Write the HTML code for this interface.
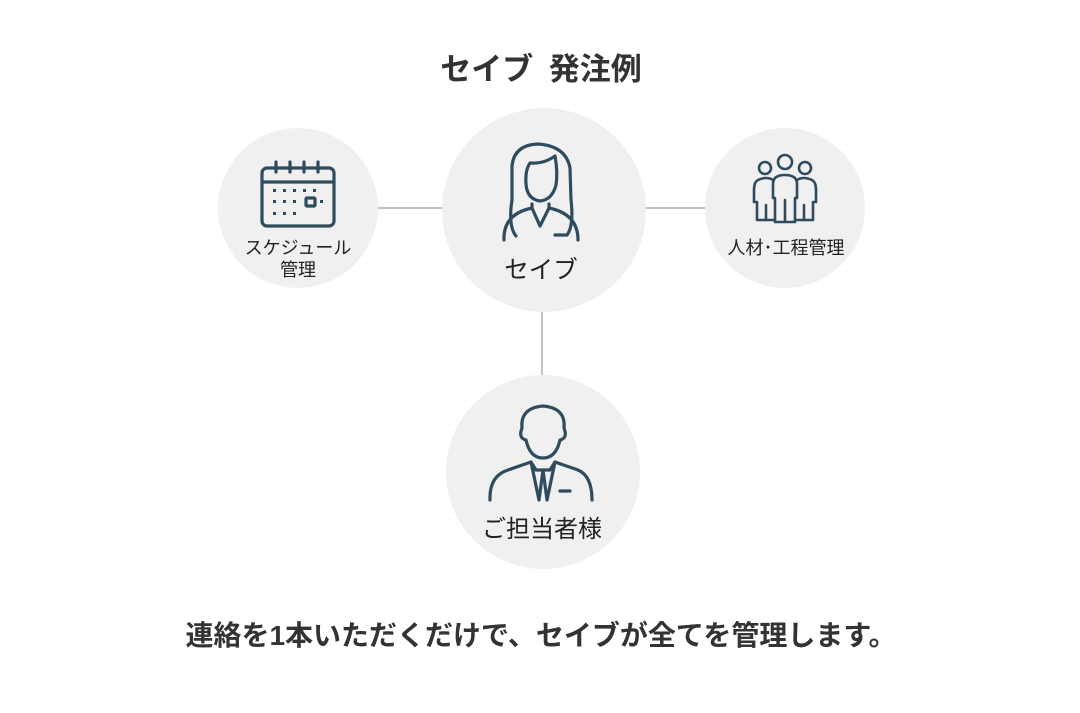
<!DOCTYPE html>
<html><head><meta charset="utf-8"><style>
html,body{margin:0;padding:0;background:#fff;}
body{width:1080px;height:708px;overflow:hidden;font-family:"Liberation Sans","Noto Sans CJK JP",sans-serif;}
</style></head><body>
<svg width="1080" height="708" viewBox="0 0 1080 708" xmlns="http://www.w3.org/2000/svg">
<g stroke="#9a9a9a" stroke-width="1.2">
<line x1="378" y1="208" x2="444" y2="208"/>
<line x1="644" y1="208" x2="706" y2="208"/>
<line x1="542" y1="312" x2="542" y2="376"/>
</g>
<circle cx="298" cy="208" r="80" fill="#f0f0f0"/>
<circle cx="544" cy="210" r="102" fill="#f0f0f0"/>
<circle cx="785" cy="208" r="80" fill="#f0f0f0"/>
<circle cx="543" cy="472" r="97" fill="#f0f0f0"/>
<text x="541" y="80" text-anchor="middle" font-size="31" font-weight="bold" fill="#333" font-family="Liberation Sans,Noto Sans CJK JP,sans-serif">セイブ&#8194;発注例</text>
<text x="541" y="645" text-anchor="middle" font-size="28" font-weight="bold" fill="#333" font-family="Liberation Sans,Noto Sans CJK JP,sans-serif">連絡を1本いただくだけで、セイブが全てを管理します。</text>
<g fill="#222" font-family="Liberation Sans,Noto Sans CJK JP,sans-serif">
<text x="541" y="278" text-anchor="middle" font-size="24.5">セイブ</text>
<text x="542" y="537" text-anchor="middle" font-size="24">ご担当者様</text>
<text x="298" y="254" text-anchor="middle" font-size="18">スケジュール</text>
<text x="298" y="276" text-anchor="middle" font-size="18">管理</text>
<text x="786" y="254" text-anchor="middle" font-size="18">人材･工程管理</text>
</g>
<g fill="none" stroke="#2f4c5e" stroke-width="3.2" stroke-linecap="round" stroke-linejoin="round">
<path d="M516 236 Q508 226 512 200 L512 166 Q514 145 538 144 Q566 146 570 168 L571 200 Q574 226 567 235"/>
<path d="M530 163 Q544 164 555 156 Q558 172 556 185 Q552 200 540 201 Q527 199 526 184 Q525 170 530 163Z"/>
<path d="M504 240 Q503 214 532 208 L540 226 L549 208 Q578 214 578 240"/>
<path d="M532 208 L532 204 M549 208 L549 204"/>
<path d="M555 235 L566 235"/>
<path d="M526 440 Q518 438 522 428 Q520 408 543 406 Q566 408 564 428 Q568 438 560 440 Q556 458 543 458 Q530 458 526 440Z"/>
<path d="M490 500 Q489 476 508 470 L531 462 L539 500 L543 470 L547 500 L555 462 L578 470 Q592 476 592 500"/>
<path d="M531 462 L536 470 L550 470 L555 462"/>
<path d="M560 491 L570 491"/>
<rect x="262" y="168" width="72" height="58" rx="5"/>
<path d="M263 182 L333 182"/>
<path d="M276 162 L276 172 M290 162 L290 172 M304 162 L304 172 M318 162 L318 172"/>
<rect x="306" y="198" width="9" height="8" rx="1"/>
</g>
<g fill="#2f4c5e">
<rect x="273" y="189" width="3" height="3"/><rect x="283" y="189" width="3" height="3"/><rect x="293" y="189" width="3" height="3"/><rect x="303" y="189" width="3" height="3"/><rect x="313" y="189" width="3" height="3"/>
<rect x="273" y="200" width="3" height="3"/><rect x="283" y="200" width="3" height="3"/><rect x="293" y="200" width="3" height="3"/><rect x="320" y="200" width="3" height="3"/>
<rect x="273" y="212" width="3" height="3"/><rect x="283" y="212" width="3" height="3"/><rect x="293" y="212" width="3" height="3"/>
</g>
<g fill="none" stroke="#2f4c5e" stroke-width="2.6" stroke-linecap="round" stroke-linejoin="round">
<circle cx="765" cy="168" r="6"/>
<circle cx="785" cy="162" r="7"/>
<circle cx="805" cy="168" r="6"/>
<path d="M775 222 L775 198 L773 198 L773 184 Q773 175 785 175 Q797 175 797 184 L797 198 L795 198 L795 222 Z M785 200 L785 222"/>
<path d="M773 180 Q767 176 758 180 Q754 182 754 190 L754 202 L757 202 L757 220 L775 220"/>
<path d="M766 205 L766 220"/>
<path d="M797 180 Q803 176 812 180 Q816 182 816 190 L816 202 L813 202 L813 220 L795 220"/>
<path d="M804 205 L804 220"/>
</g>
</svg>
</body></html>
